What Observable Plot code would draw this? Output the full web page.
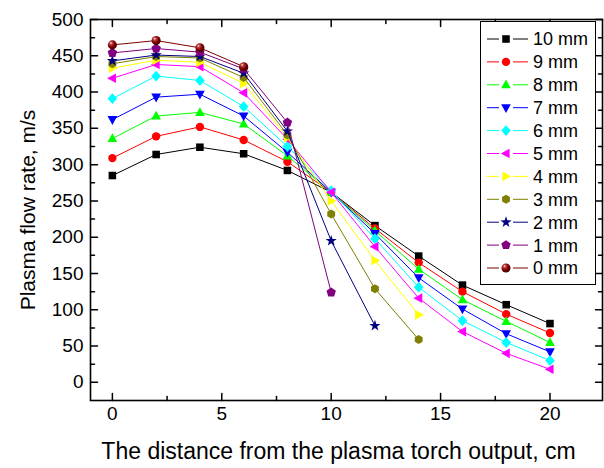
<!DOCTYPE html>
<html><head><meta charset="utf-8">
<script src="https://cdn.jsdelivr.net/npm/d3@7"></script>
<script src="https://cdn.jsdelivr.net/npm/@observablehq/plot@0.6"></script>
<style>body{margin:0;background:#fff;} #chart{width:604px;height:468px;}</style>
</head><body>
<svg width="0" height="0" style="position:absolute"><defs>
<radialGradient id="sphere" cx="0.4" cy="0.38" r="0.65" fx="0.33" fy="0.28">
<stop offset="0" stop-color="#ffffff"/><stop offset="0.22" stop-color="#c04848"/><stop offset="0.6" stop-color="#800000"/><stop offset="1" stop-color="#400000"/>
</radialGradient></defs></svg>
<div id="chart"></div>
<script>
// ---- data ----
const distance = [0, 2, 4, 6, 8, 10, 12, 14, 16, 18, 20];
const names = ["10 mm", "9 mm", "8 mm", "7 mm", "6 mm", "5 mm", "4 mm", "3 mm", "2 mm", "1 mm", "0 mm"];
const v10 = [285, 314, 324, 315, 292, 262, 216, 174, 134, 107, 81];
const v9  = [309, 339, 352, 334, 304, 262, 212, 165, 125, 94, 68];
const v8  = [336, 367, 372, 356, 312, 262, 209, 156, 114, 84, 55];
const v7  = [362, 393, 397, 367, 317, 262, 205, 144, 101, 67, 42];
const v6  = [391, 422, 416, 380, 325, 264, 198, 131, 85, 55, 30];
const v5  = [419, 438, 435, 399, 335, 262, 187, 116, 70, 40, 18];
const v4  = [433, 444, 441, 412, 337, 250, 168, 93];
const v3  = [439, 449, 447, 420, 341, 232, 129, 59];
const v2  = [443, 451, 449, 426, 346, 195, 78];
const v1  = [454, 460, 455, 432, 358, 124];
const v0  = [465, 471, 461, 435];
const values = [v10, v9, v8, v7, v6, v5, v4, v3, v2, v1, v0];
const colors = ["#000000", "#ff0000", "#00ff00", "#0000ff", "#00ffff", "#ff00ff", "#ffff00", "#808000", "#000080", "#800080", "#800000"];
const xTickLabels = [0, 5, 10, 15, 20];
const xMinorTicks = [2.5, 7.5, 12.5, 17.5];
const yTickLabels = [0, 50, 100, 150, 200, 250, 300, 350, 400, 450, 500];
const yMinorTicks = [25, 75, 125, 175, 225, 275, 325, 375, 425, 475];
const xTitle = "The distance from the plasma torch output, cm";
const yTitle = "Plasma flow rate, m/s";

// ---- symbols ----
function poly(pts) {
  return {draw(ctx, size) {
    const r = Math.sqrt(size / Math.PI);
    pts.forEach(([a, b], i) => i ? ctx.lineTo(a * r, b * r) : ctx.moveTo(a * r, b * r));
    ctx.closePath();
  }};
}
const circleSym = {draw(ctx, size) { const r = Math.sqrt(size / Math.PI); ctx.moveTo(r, 0); ctx.arc(0, 0, r, 0, 2 * Math.PI); }};
const sphereSym = {draw(ctx, size) { const r = 1.08 * Math.sqrt(size / Math.PI); ctx.moveTo(r, 0); ctx.arc(0, 0, r, 0, 2 * Math.PI); }};
const starPts = d3.range(10).map(i => { const a = -Math.PI / 2 + i * Math.PI / 5, rr = i % 2 ? 0.55 : 1.4; return [rr * Math.cos(a), rr * Math.sin(a)]; });
const symbols = [
  poly([[-0.9, -0.9], [0.9, -0.9], [0.9, 0.9], [-0.9, 0.9]]),
  circleSym,
  poly([[0, -1.25], [1.15, 0.85], [-1.15, 0.85]]),
  poly([[0, 1.25], [1.15, -0.85], [-1.15, -0.85]]),
  poly([[0, -1.3], [1.15, 0], [0, 1.3], [-1.15, 0]]),
  poly([[-1.25, 0], [0.85, -1.15], [0.85, 1.15]]),
  poly([[1.25, 0], [-0.85, -1.15], [-0.85, 1.15]]),
  poly(d3.range(6).map(i => { const a = -Math.PI / 2 + i * Math.PI / 3; return [1.08 * Math.cos(a), 1.08 * Math.sin(a)]; })),
  poly(starPts),
  poly(d3.range(5).map(i => { const a = -Math.PI / 2 + i * 2 * Math.PI / 5; return [1.18 * Math.cos(a), 1.18 * Math.sin(a)]; })),
  sphereSym
];
const fills = colors.map((c, i) => i === 10 ? "url(#sphere)" : c);
const R = 4.2;

const tickShape = {draw(ctx, l) { ctx.moveTo(0, 0); ctx.lineTo(0, -l); }};
const fontFam = "'Liberation Sans', Arial, sans-serif";

const seriesMarks = values.flatMap((vals, s) => {
  const d = vals.map((v, i) => ({x: distance[i], y: v}));
  return [
    Plot.line(d, {x: "x", y: "y", stroke: colors[s], strokeWidth: 1}),
    Plot.dot(d, {x: "x", y: "y", symbol: symbols[s], r: R, fill: fills[s], stroke: "none"})
  ];
});

const chart = Plot.plot({
  width: 604, height: 468,
  marginLeft: 90, marginRight: 2, marginTop: 19, marginBottom: 68,
  x: {domain: [-1, 22.4]},
  y: {domain: [-25, 500]},
  style: {fontFamily: fontFam, background: "white", color: "black", overflow: "visible"},
  marks: [
    Plot.vector(xTickLabels, {x: d => d, frameAnchor: "bottom", length: 7, rotate: 0, anchor: "start", shape: tickShape, stroke: "black", strokeWidth: 1.5}),
    Plot.vector(xMinorTicks, {x: d => d, frameAnchor: "bottom", length: 4, rotate: 0, anchor: "start", shape: tickShape, stroke: "black", strokeWidth: 1.5}),
    Plot.vector(xTickLabels, {x: d => d, frameAnchor: "top", length: 7, rotate: 180, anchor: "start", shape: tickShape, stroke: "black", strokeWidth: 1.5}),
    Plot.vector(xMinorTicks, {x: d => d, frameAnchor: "top", length: 4, rotate: 180, anchor: "start", shape: tickShape, stroke: "black", strokeWidth: 1.5}),
    Plot.vector(yTickLabels, {y: d => d, frameAnchor: "left", length: 7, rotate: 90, anchor: "start", shape: tickShape, stroke: "black", strokeWidth: 1.5}),
    Plot.vector(yMinorTicks, {y: d => d, frameAnchor: "left", length: 4, rotate: 90, anchor: "start", shape: tickShape, stroke: "black", strokeWidth: 1.5}),
    Plot.vector(yTickLabels, {y: d => d, frameAnchor: "right", length: 7, rotate: -90, anchor: "start", shape: tickShape, stroke: "black", strokeWidth: 1.5}),
    Plot.vector(yMinorTicks, {y: d => d, frameAnchor: "right", length: 4, rotate: -90, anchor: "start", shape: tickShape, stroke: "black", strokeWidth: 1.5}),
    Plot.axisX(xTickLabels, {anchor: "bottom", tickSize: 0, tickPadding: 6, fontSize: 19, label: null}),
    Plot.axisY(yTickLabels, {anchor: "left", tickSize: 0, tickPadding: 7, fontSize: 19, label: null}),
    Plot.text([xTitle], {frameAnchor: "bottom", dx: -8, dy: 58, fontSize: 23, text: d => d, fill: "black"}),
    Plot.text([yTitle], {frameAnchor: "left", dx: -62, rotate: -90, textAnchor: "middle", fontSize: 21, text: d => d, fill: "black"}),
    ...seriesMarks,
    Plot.frame({stroke: "black", strokeWidth: 1.6})
  ]
});
document.getElementById("chart").appendChild(chart);

// ---- legend ----
const svg = d3.select(chart);
const lg = svg.append("g").attr("font-family", fontFam).attr("font-size", 18).attr("text-anchor", "start");
lg.append("rect").attr("x", 480.5).attr("y", 21.5).attr("width", 115).attr("height", 263)
  .attr("fill", "white").attr("stroke", "black").attr("stroke-width", 1);
names.forEach((n, i) => {
  const y = 39 + i * 22.9;
  const g = lg.append("g").attr("transform", `translate(0,${y})`);
  g.append("line").attr("x1", 487).attr("x2", 499).attr("y1", 0).attr("y2", 0).attr("stroke", colors[i]);
  g.append("line").attr("x1", 513).attr("x2", 528).attr("y1", 0).attr("y2", 0).attr("stroke", colors[i]);
  const p = d3.path(); symbols[i].draw(p, Math.PI * R * R);
  g.append("path").attr("d", p.toString()).attr("transform", "translate(506,0)").attr("fill", fills[i]);
  g.append("text").attr("x", 533).attr("y", 0).attr("dy", "0.36em").attr("text-anchor", "start").attr("fill", "black").text(n);
});
</script>
</body></html>
